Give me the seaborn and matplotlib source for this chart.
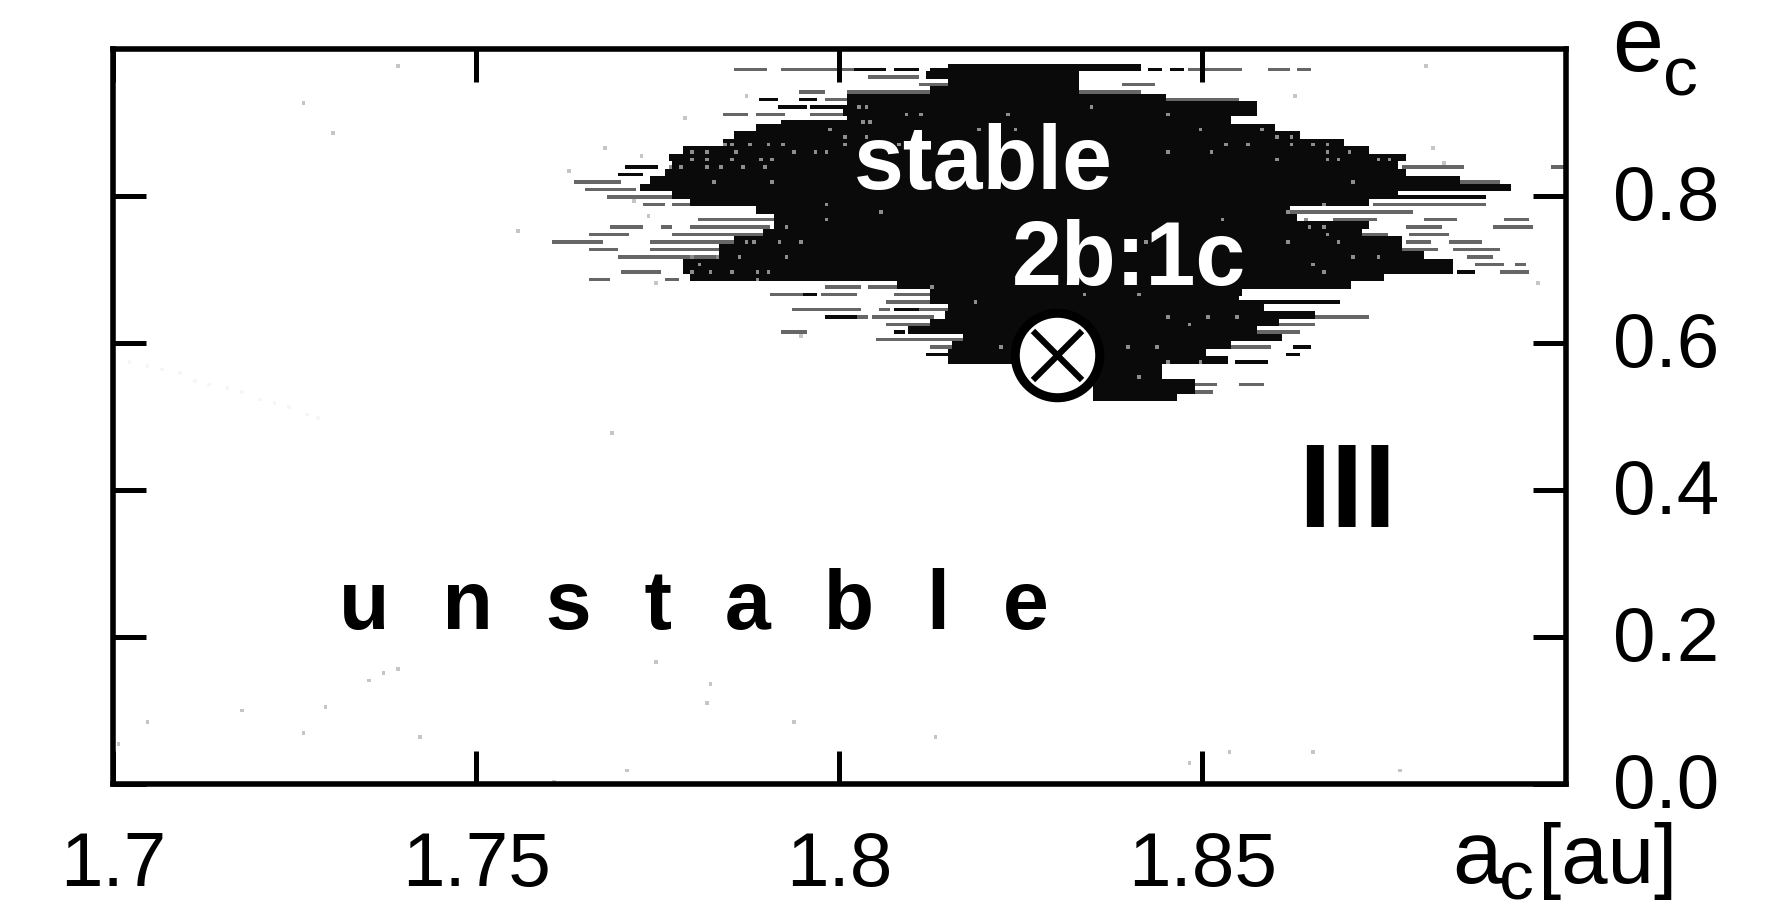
import numpy as np
import seaborn as sns
import matplotlib.pyplot as plt
from matplotlib.transforms import ScaledTranslation

# eccentricity of each scan line of the stable island, top to bottom
e_rows = [0.975, 0.9648, 0.9546, 0.9444, 0.9342, 0.924, 0.9138, 0.9036, 0.8934, 0.8832,
          0.873, 0.8628, 0.8526, 0.8424, 0.8322, 0.822, 0.8118, 0.8016, 0.7914, 0.7812,
          0.771, 0.7608, 0.7506, 0.7404, 0.7302, 0.72, 0.7098, 0.6996, 0.6894, 0.6792,
          0.669, 0.6588, 0.6486, 0.6384, 0.6282, 0.618, 0.6078, 0.5976, 0.5874, 0.5772,
          0.567, 0.5568, 0.5466, 0.5364, 0.5262]

# solid part of each line
core_left = [1.8155, 1.8121, 1.8153, 1.8125, 1.8013, 1.8013, 1.8010, 1.8013, 1.7885, 1.7855,
             1.7840, 1.7790, 1.7765, 1.7772, 1.7760, 1.7740, 1.7725, 1.7772, 1.7799, 1.7885,
             1.7914, 1.7914, 1.7895, 1.7859, 1.7836, 1.7836, 1.7786, 1.7786, 1.7795, 1.8080,
             1.8130, 1.8125, 1.8153, 1.8148, 1.8125, 1.8095, 1.8171, 1.8157, 1.8153, 1.8153,
             1.8245, 1.8245, 1.8330, 1.8354, 1.8350]
core_right = [1.8412, 1.8327, 1.8327, 1.8327, 1.8448, 1.8575, 1.8575, 1.8538, 1.8596, 1.8630,
              1.8691, 1.8728, 1.8775, 1.8765, 1.8775, 1.8854, 1.8923, 1.8765, 1.8728, 1.8617,
              1.8628, 1.8728, 1.8717, 1.8770, 1.8770, 1.8802, 1.8844, 1.8844, 1.8749, 1.8700,
              1.8554, 1.8549, 1.8580, 1.8654, 1.8601, 1.8570, 1.8607, 1.8538, 1.8501, 1.8530,
              1.8440, 1.8440, 1.8485, 1.8485, 1.8464]

# broken grey streaks on the fringe: line number, start, end
streak_row = [0, 0, 0, 1, 1, 2, 2, 3, 3, 3, 3, 4, 4, 6, 6, 6,
              15, 16, 17, 18, 18, 20, 21, 21, 21, 22, 22, 23, 23, 24, 24, 25, 25,
              27, 28, 28, 29, 29, 30, 30, 30, 31, 32, 32, 32, 33, 33, 33, 34, 35, 36, 37, 39,
              0, 0, 0, 0, 13, 13, 15, 18, 19, 20, 20, 20, 21, 21, 22, 22,
              23, 23, 24, 24, 25, 26, 26, 27, 28, 29, 33, 33, 34, 35, 37, 39, 42, 42, 43]
streak_start = [1.7857, 1.7923, 1.7944, 1.8043, 1.8153, 1.8112, 1.8390, 1.7946, 1.8013, 1.8052, 1.8327, 1.7983, 1.8448, 1.7843, 1.7887, 1.7960,
                1.7636, 1.7652, 1.7680, 1.7733, 1.7772, 1.7808, 1.7689, 1.7758, 1.7799, 1.7655, 1.7772, 1.7607, 1.7744, 1.7655, 1.7740, 1.7698, 1.7730,
                1.7703, 1.7655, 1.7763, 1.7983, 1.8043, 1.7905, 1.7976, 1.8079, 1.8065, 1.7939, 1.8056, 1.8107, 1.8020, 1.8047, 1.8578, 1.8065, 1.7923, 1.8052, 1.8130, 1.8196,
                1.8480, 1.8522, 1.8591, 1.8633, 1.8775, 1.8981, 1.8854, 1.8738, 1.8622, 1.8680, 1.8809, 1.8917, 1.8781, 1.8902, 1.8722, 1.8786,
                1.8781, 1.8841, 1.8765, 1.8849, 1.8865, 1.8875, 1.8931, 1.8912, 1.8707, 1.8511, 1.8578, 1.8696, 1.8601, 1.8554, 1.8538, 1.8506, 1.8485, 1.8554, 1.8485]
streak_end = [1.7896, 1.7937, 1.8020, 1.8107, 1.8203, 1.8148, 1.8433, 1.7976, 1.8047, 1.8125, 1.8412, 1.8006, 1.8549, 1.7873, 1.7923, 1.8010,
              1.7698, 1.7717, 1.7772, 1.7758, 1.7799, 1.7914, 1.7726, 1.7765, 1.7900, 1.7710, 1.7895, 1.7671, 1.7859, 1.7691, 1.7836, 1.7721, 1.7836,
              1.7751, 1.7684, 1.7776, 1.8029, 1.8075, 1.7951, 1.8024, 1.8121, 1.8125, 1.8029, 1.8065, 1.8153, 1.8038, 1.8125, 1.8691, 1.8125, 1.7951, 1.8171, 1.8157, 1.8245,
              1.8517, 1.8554, 1.8617, 1.8649, 1.8860, 1.8997, 1.8907, 1.8886, 1.8786, 1.8738, 1.8846, 1.8949, 1.8828, 1.8954, 1.8754, 1.8838,
              1.8812, 1.8881, 1.8823, 1.8907, 1.8896, 1.8912, 1.8943, 1.8949, 1.8738, 1.8543, 1.8691, 1.8728, 1.8654, 1.8633, 1.8590, 1.8533, 1.8517, 1.8580, 1.8512]

# black streaks outside the solid part
dark_row = [0, 0, 0, 0, 0, 4, 4, 5, 5, 7, 13, 14, 17, 27, 30, 31, 32, 33, 35, 37, 38, 38, 39]
dark_start = [1.8024, 1.8077, 1.8125, 1.8426, 1.8459, 1.7893, 1.7946, 1.7919, 1.7960, 1.7923, 1.7707, 1.7698, 1.8765, 1.8850, 1.7951, 1.8549, 1.8079, 1.7983, 1.8079, 1.8628, 1.8121, 1.8617, 1.8549]
dark_end = [1.8061, 1.8105, 1.8155, 1.8442, 1.8475, 1.7914, 1.7969, 1.7951, 1.8010, 1.8010, 1.7749, 1.7725, 1.8886, 1.8870, 1.7969, 1.8686, 1.8107, 1.8020, 1.8089, 1.8649, 1.8153, 1.8633, 1.8585]

# pale holes inside the solid part
hole_row = [5, 5, 5, 6, 6, 6, 6, 7, 7, 8, 8, 8, 8, 8, 9, 9,
            10, 10, 10, 10, 10, 10, 10, 10, 10, 10,
            11, 11, 11, 11, 11, 11, 11, 11, 11,
            12, 12, 12, 12, 12, 12, 12, 12,
            13, 13, 13, 13, 13, 13, 15, 15, 15, 18, 18, 19, 19, 20, 20, 20,
            21, 21, 21, 22, 23, 23, 23, 23, 23, 23, 23, 25, 25, 25, 25, 25, 25,
            26, 26, 27, 27, 27, 27, 27, 27, 28, 29, 30, 30, 31, 33, 33, 33, 34, 37, 37, 37, 39, 39, 41,
            8, 9, 9, 10, 10, 11, 11, 12, 12]
hole_a = [1.8027, 1.8038, 1.8346, 1.8091, 1.8111, 1.8235, 1.8451, 1.8033, 1.8043, 1.7990, 1.8194, 1.8242, 1.8243, 1.8496, 1.8038, 1.8010,
          1.8006, 1.8082, 1.7923, 1.7900, 1.7877, 1.7852, 1.7841, 1.8533, 1.8564, 1.8622,
          1.7983, 1.7969, 1.7939, 1.7859, 1.7818, 1.7795, 1.8451, 1.8512, 1.8033,
          1.7891, 1.7910, 1.7852, 1.7799, 1.8601, 1.8670, 1.8686, 1.7818,
          1.7818, 1.7838, 1.7866, 1.7896, 1.7781, 1.7767, 1.7910, 1.7829, 1.8707, 1.7983, 1.8665, 1.8059, 1.8617, 1.7983, 1.8527, 1.8643,
          1.7930, 1.8649, 1.8667, 1.8670, 1.7919, 1.7946, 1.7873, 1.7884, 1.8686, 1.8617, 1.8422, 1.7930, 1.7864, 1.7831, 1.7799, 1.8707, 1.8741,
          1.7808, 1.8651, 1.7799, 1.7822, 1.7852, 1.7886, 1.7900, 1.8665, 1.7886, 1.8130, 1.8414, 1.8338, 1.8187, 1.8454, 1.8506, 1.8546, 1.8480, 1.8222, 1.8396, 1.8438, 1.8454, 1.8496, 1.8414,
          1.8580, 1.8600, 1.8622, 1.8650, 1.8672, 1.8670, 1.8702, 1.8740, 1.8760]

# isolated specks in the unstable region
speck_a = [1.7394, 1.7261, 1.7302, 1.7558, 1.7047, 1.7008, 1.7178, 1.7292, 1.7352, 1.7372, 1.7392, 1.7260, 1.7425,
           1.7820, 1.7815, 1.7937, 1.8131, 1.7747, 1.8484, 1.8538, 1.8655, 1.8774, 1.7706, 1.7610, 1.7687,
           1.8807, 1.8817, 1.8830, 1.8625, 1.7677, 1.7625, 1.7873, 1.7786, 1.7726, 1.7717, 1.7735, 1.7749, 1.7946, 1.8963]
speck_e = [0.9788, 0.9278, 0.8862, 0.7518, 0.0833, 0.0524, 0.1018, 0.1064, 0.1404, 0.1528, 0.1559, 0.0694, 0.0648,
           0.1342, 0.1110, 0.0817, 0.0663, 0.1682, 0.0292, 0.0416, 0.0416, 0.0200, 0.0169, 0.0046, 0.4770,
           0.9750, 0.8628, 0.8424, 0.9342, 0.8628, 0.8322, 0.9342, 0.9036, 0.8526, 0.7914, 0.7710, 0.6792, 0.6078, 0.6792]

# faint diagonal trail on the left
trail_a = [1.7024, 1.7046, 1.7068, 1.7090, 1.7112, 1.7134, 1.7156, 1.7178, 1.7200, 1.7222, 1.7244, 1.7266, 1.7281]
trail_e = [0.576, 0.569, 0.563, 0.557, 0.550, 0.544, 0.537, 0.531, 0.524, 0.518, 0.511, 0.505, 0.500]

resonance_a = [1.83]
resonance_e = [0.583]

x_ticks = [1.7, 1.75, 1.8, 1.85]
x_tick_labels = ['1.7', '1.75', '1.8', '1.85']
y_ticks = [0.0, 0.2, 0.4, 0.6, 0.8]
y_tick_labels = ['0.0', '0.2', '0.4', '0.6', '0.8']

sns.set_style('white')
plt.rcParams['font.family'] = ['Liberation Sans', 'DejaVu Sans']

N_COLS = 400
N_ROWS = 196
W, H = 1777, 916


def col(a):
    return (a - 1.7) / 0.2 * N_COLS


def row(e):
    return (1 - e) * N_ROWS


# Build the raster
grid = np.zeros((N_ROWS, N_COLS))
rows = [int(round(row(e))) for e in e_rows]

for i, a0, a1 in zip(streak_row, streak_start, streak_end):
    grid[rows[i], int(col(a0)):int(col(a1)) + 1] = 0.7
for i, a0, a1 in zip(dark_row, dark_start, dark_end):
    grid[rows[i], int(col(a0)):int(col(a1)) + 1] = 1
for i, a0, a1 in zip(range(len(e_rows)), core_left, core_right):
    grid[rows[i] - 1:rows[i] + 1, int(col(a0)):int(col(a1)) + 1] = 1
for i, a in zip(hole_row, hole_a):
    grid[rows[i], int(col(a))] = 0.55
for a, e in zip(speck_a, speck_e):
    grid[int(row(e)), int(col(a))] = 0.35
for a, e in zip(trail_a, trail_e):
    grid[int(row(e)), int(col(a))] = 0.08

fig = plt.figure(figsize=(W / 100, H / 100), dpi=100)
ax = fig.add_axes([113 / W, 1 - 783.5 / H, 1452.5 / W, 734.5 / H])
sns.heatmap(grid, ax=ax, cmap='Greys', vmin=0, vmax=1.04, cbar=False,
            xticklabels=False, yticklabels=False, rasterized=True)

ax.set_axisbelow(False)
for s in ax.spines.values():
    s.set_visible(True)
    s.set_color('black')
    s.set_linewidth(4)

ax.set_xticks([col(a) for a in x_ticks])
ax.set_xticklabels(x_tick_labels)
ax.set_yticks([row(e) for e in y_ticks])
ax.set_yticklabels(y_tick_labels, rotation=0)
ax.tick_params(axis='both', direction='in', length=24, width=3.6, color='black',
               labelsize=55, labelcolor='black', top=True, bottom=True, left=True, right=True)
ax.tick_params(axis='x', pad=34)
ax.tick_params(axis='y', pad=34, labelleft=False, labelright=True)
for t in ax.get_yticklabels():
    t.set_transform(t.get_transform() + ScaledTranslation(0, 3 / 100, fig.dpi_scale_trans))

# 2b:1c resonance marker
sns.scatterplot(x=[col(a) for a in resonance_a], y=[row(e) for e in resonance_e], ax=ax,
                s=3700, color='white', edgecolor='black', linewidth=6.5, legend=False, zorder=5)
sns.scatterplot(x=[col(a) for a in resonance_a], y=[row(e) for e in resonance_e], ax=ax,
                s=1250, marker='x', color='black', linewidth=4.5, legend=False, zorder=6)


def label(x, y, txt, **kw):
    fig.text(x / W, 1 - y / H, txt, va='baseline', color=kw.pop('color', 'black'), **kw)


label(983, 189, 'stable', color='white', fontsize=64.5, fontweight='bold', ha='center', zorder=7)
label(1129, 285, '2b:1c', color='white', fontsize=64.5, fontweight='bold', ha='center', zorder=7)
label(694, 629, 'u  \u200an  \u200as  \u200at  \u200aa  \u200ab  \u200al  \u200ae',
      fontsize=59.5, fontweight='bold', ha='center')
label(1347, 527, 'III', fontsize=85, fontweight='bold', ha='center')
label(1612, 71, 'e', fontsize=66)
label(1663, 96, 'c', fontsize=50)
label(1452, 883, 'a', fontsize=64)
label(1499, 899, 'c', fontsize=50)
label(1538, 883, '[au]', fontsize=60)

fig.savefig('out.png', dpi=100)
